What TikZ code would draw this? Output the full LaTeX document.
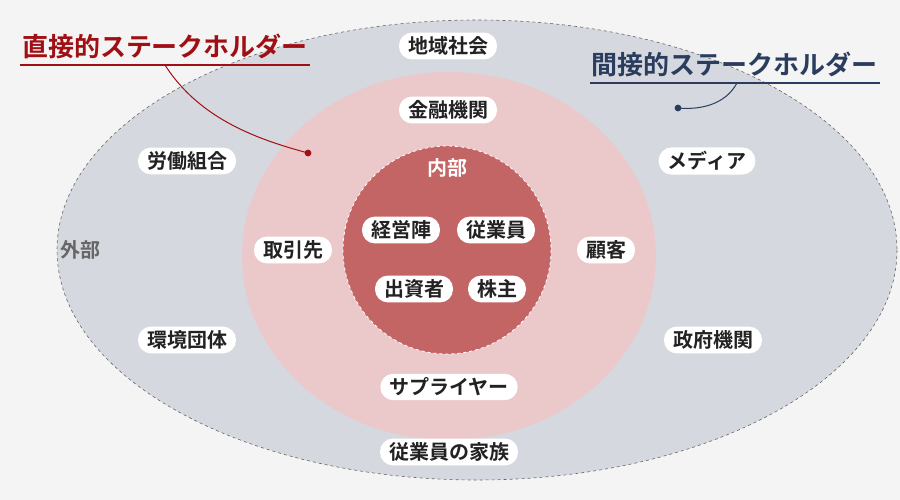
\documentclass[tikz,border=0pt]{standalone}
\usepackage{fontspec}
\setmainfont{Noto Sans CJK JP}[BoldFont={* Bold}]
\usetikzlibrary{calc}
\definecolor{bg}{HTML}{F4F4F4}
\definecolor{outer}{HTML}{D5D8DE}
\definecolor{mid}{HTML}{EBC9CB}
\definecolor{core}{HTML}{C46565}
\definecolor{direct}{HTML}{A00F14}
\definecolor{indirect}{HTML}{2B3D5E}
\definecolor{ink}{HTML}{222222}
\tikzset{
  pill/.style={fill=white, rounded corners=13pt, inner xsep=9pt, inner ysep=4pt, text=ink, font=\bfseries\fontsize{20}{20}\selectfont},
  zone/.style={font=\bfseries\fontsize{20}{20}\selectfont},
  title/.style={font=\bfseries\fontsize{26}{26}\selectfont},
  dot/.style={circle, inner sep=2.4pt},
}
\begin{document}
\begin{tikzpicture}[x=1pt,y=-1pt]
  \useasboundingbox[fill=bg] (0,0) rectangle (900,500);
  % rings
  \draw[fill=outer, draw=gray!80!black, dashed, line width=0.6pt] (477,250) ellipse [x radius=420, y radius=230];
  \fill[mid] (449,256) ellipse [x radius=207, y radius=184];
  \draw[fill=core, draw=white, dashed, line width=0.8pt] (447,250) circle (104);
  % zone names
  \node[zone, text=white] (inner) at (447,168) {内部};
  \node[zone, text=gray!80!black] (outside) at (80,250) {外部};
  % stakeholders
  \node[pill] (region) at (448,46) {地域社会};
  \node[pill] (bank) at (448,110) {金融機関};
  \node[pill] (union) at (187,161) {労働組合};
  \node[pill] (media) at (707,161) {メディア};
  \node[pill] (trade) at (293,250) {取引先};
  \node[pill] (client) at (606,250) {顧客};
  \node[pill] (mgmt) at (401,230) {経営陣};
  \node[pill] (staff) at (496,230) {従業員};
  \node[pill] (investor) at (414,289) {出資者};
  \node[pill] (holder) at (497,289) {株主};
  \node[pill] (env) at (187,340) {環境団体};
  \node[pill] (gov) at (713,340) {政府機関};
  \node[pill] (supplier) at (449,387) {サプライヤー};
  \node[pill] (family) at (449,452) {従業員の家族};
  % callouts
  \node[title, text=direct] (dtitle) at (165,46) {直接的ステークホルダー};
  \coordinate (dl) at (20,65);
  \coordinate (dr) at (310,65);
  \coordinate (dfoot) at (165,65);
  \draw[direct, line width=1.2pt] (dl) -- (dr);
  \node[dot, fill=direct] (ddot) at (308,153) {};
  \draw[direct, line width=1pt] (dfoot) .. controls (200,120) and (260,140) .. (ddot.center);
  \node[title, text=indirect] (ititle) at (734,64) {間接的ステークホルダー};
  \coordinate (il) at (590,83);
  \coordinate (ir) at (880,83);
  \coordinate (ifoot) at (737,83);
  \draw[indirect, line width=1.2pt] (il) -- (ir);
  \node[dot, fill=indirect] (idot) at (678,108) {};
  \draw[indirect, line width=1pt] (ifoot) .. controls (725,105) and (700,110) .. (idot.center);
\end{tikzpicture}
\end{document}
